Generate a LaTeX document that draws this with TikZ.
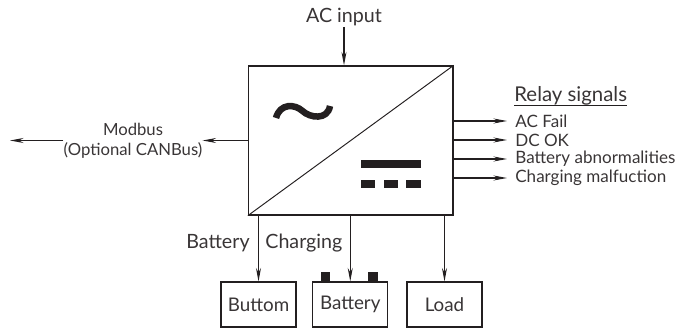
\documentclass[tikz,border=0pt]{standalone}
\usepackage{fontspec}
\setmainfont{Lato}
\usepackage{tikz}
\usetikzlibrary{arrows.meta,positioning,calc}

\definecolor{ink}{HTML}{231F20}

\begin{document}
\begin{tikzpicture}[
    block/.style={draw=ink, line width=.6pt, minimum width=1.5cm, minimum height=.9cm, inner sep=0pt, font=\fontsize{10.7}{12}\selectfont, text=ink!90},
    arrow/.style={-{Stealth[length=.27cm, width=.1cm]}, line width=.65pt, ink},
    lab/.style={font=\fontsize{11.2}{13}\selectfont, text=ink!90, inner sep=0pt},
    sig/.style={font=\fontsize{9.7}{11}\selectfont, text=ink!90, inner sep=0pt, anchor=west}
  ]
    \useasboundingbox (0,0) rectangle (13.54,6.56);

    \node[draw=ink, line width=.7pt, minimum width=4.09cm, minimum height=2.98cm, inner sep=0pt] (main) at (7.015,3.75) {};
    \draw[ink, line width=.55pt] (main.south west) -- (main.north east);

    % ac and dc marks
    \draw[ink, line width=.13cm] (5.52,4.2) .. controls (5.6,4.5) and (5.9,4.48) .. (6.05,4.34) .. controls (6.2,4.2) and (6.55,4.15) .. (6.6,4.44);
    \fill[ink] (7.22,3.354) rectangle (8.42,3.2);
    \fill[ink] (7.22,2.8) rectangle (7.506,2.954);
    \fill[ink] (7.68,2.8) rectangle (7.966,2.954);
    \fill[ink] (8.126,2.8) rectangle (8.42,2.954);

    \node[lab] (acinput) at (6.88,6.22) {AC input};
    \coordinate (acstart) at (6.88,6.02);
    \node[block] (buttom) at (5.17,.47) {Buttom};
    \node[block] (battery) at (7.005,.47) {Battery};
    \node[block] (load) at (8.89,.47) {Load};
    \fill[ink] ($(battery.north)+(-.585,0)$) rectangle ++(.18,.19);
    \fill[ink] ($(battery.north)+(.361,0)$) rectangle ++(.19,.19);

    \node[lab, align=center, font=\fontsize{9.5}{11.3}\selectfont] (modbus) at (2.66,3.75) {Modbus\\(Optional CANBus)};
    \coordinate (busend) at (.2,3.75);

    \node[lab, anchor=east] (batterytxt) at (5,1.7) {Battery};
    \node[lab, anchor=west] (chargingtxt) at (5.3,1.7) {Charging};

    \node[sig] (acfail) at (10.3,4.14) {AC Fail};
    \node[sig] (dcok) at (10.3,3.76) {DC OK};
    \node[sig] (batab) at (10.3,3.38) {Battery abnormalities};
    \node[sig] (chmal) at (10.3,3.0) {Charging malfuction};
    \node[lab, anchor=west, font=\fontsize{11.6}{13}\selectfont] (relay) at (10.28,4.65) {Relay signals};
    \draw[ink, line width=.55pt] (relay.south west) -- (relay.south east);

    \draw[arrow] (acstart) -- (acstart |- main.north);
    \draw[arrow] (main.west) -- (modbus.east);
    \draw[arrow] (modbus.west) -- (busend);
    \draw[arrow] (main.south -| buttom.north) -- (buttom.north);
    \draw[arrow] (main.south -| battery.north) -- (battery.north);
    \draw[arrow] (main.south -| load.north) -- (load.north);
    \foreach \i in {acfail,dcok,batab,chmal}
      \draw[arrow] (main.east |- \i.west) -- ($(\i.west)+(-.16,0)$);
  \end{tikzpicture}
\end{document}
